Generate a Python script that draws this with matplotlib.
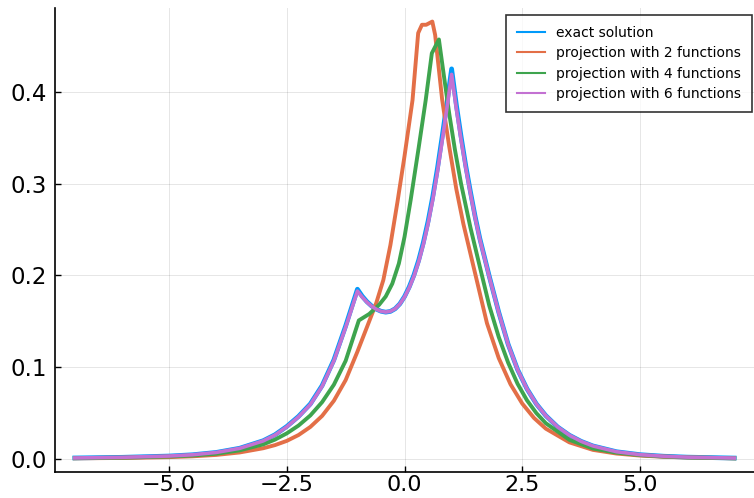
import matplotlib
matplotlib.use("Agg")
import matplotlib.pyplot as plt

# exact solution
x_exact = [-7.0, -6.0, -5.0, -4.5, -4.0, -3.5, -3.0, -2.75, -2.5, -2.25, -2.0, -1.75,
           -1.5, -1.25, -1.0, -0.9, -0.8, -0.7, -0.6, -0.5, -0.4, -0.3, -0.2, -0.1,
           0.0, 0.1, 0.2, 0.3, 0.4, 0.5, 0.6, 0.7, 0.8, 0.9, 1.0, 1.1, 1.2, 1.3, 1.4,
           1.5, 1.6, 1.8, 2.0, 2.2, 2.4, 2.6, 2.8, 3.0, 3.25, 3.5, 3.75, 4.0, 4.5,
           5.0, 5.5, 6.0, 7.0]
y_exact = [0.0012, 0.0019, 0.0033, 0.0047, 0.0072, 0.0118, 0.0200, 0.0265, 0.0355,
           0.0465, 0.0600, 0.0800, 0.1080, 0.1450, 0.1850, 0.1775, 0.1715, 0.1668,
           0.1633, 0.1610, 0.1600, 0.1608, 0.1637, 0.1690, 0.1770, 0.1875, 0.2005,
           0.2165, 0.2360, 0.2590, 0.2860, 0.3170, 0.3515, 0.3875, 0.4250, 0.3860,
           0.3515, 0.3195, 0.2910, 0.2640, 0.2400, 0.1990, 0.1600, 0.1250, 0.0975,
           0.0765, 0.0600, 0.0473, 0.0350, 0.0260, 0.0193, 0.0143, 0.0080, 0.0048,
           0.0031, 0.0021, 0.0011]

# projection with 2 functions
x_p2 = [-7.0, -6.0, -5.0, -4.5, -4.0, -3.5, -3.0, -2.75, -2.5, -2.25, -2.0, -1.75,
        -1.5, -1.25, -1.0, -0.75, -0.6, -0.45, -0.3, -0.15, 0.0, 0.17, 0.29, 0.37,
        0.46, 0.59, 0.65, 0.8, 0.95, 1.1, 1.25, 1.5, 1.75, 2.0, 2.25, 2.5, 2.75,
        3.0, 3.5, 4.0, 4.5, 5.0, 5.5, 6.0, 7.0]
y_p2 = [0.0008, 0.0012, 0.0021, 0.0030, 0.0045, 0.0072, 0.0118, 0.0152, 0.0198,
        0.0262, 0.0350, 0.0470, 0.0635, 0.0860, 0.1170, 0.1500, 0.1700, 0.1950,
        0.2330, 0.2800, 0.3300, 0.3910, 0.4640, 0.4730, 0.4730, 0.4765, 0.4620,
        0.3910, 0.3400, 0.2940, 0.2560, 0.2020, 0.1480, 0.1100, 0.0815, 0.0604,
        0.0447, 0.0331, 0.0182, 0.0100, 0.0060, 0.0038, 0.0025, 0.0017, 0.0008]

# projection with 4 functions
x_p4 = [-7.0, -6.0, -5.0, -4.5, -4.0, -3.5, -3.0, -2.75, -2.5, -2.25, -2.0, -1.75,
        -1.5, -1.25, -0.97, -0.75, -0.54, -0.4, -0.26, -0.12, 0.0, 0.13, 0.3, 0.45,
        0.58, 0.73, 0.84, 0.95, 1.07, 1.2, 1.4, 1.62, 1.8, 2.0, 2.2, 2.4, 2.6, 2.8,
        3.0, 3.5, 4.0, 4.5, 5.0, 5.5, 6.0, 7.0]
y_p4 = [0.0010, 0.0016, 0.0028, 0.0039, 0.0058, 0.0095, 0.0160, 0.0212, 0.0280,
        0.0365, 0.0475, 0.0620, 0.0810, 0.1070, 0.1510, 0.1580, 0.1680, 0.1770,
        0.1910, 0.2130, 0.2420, 0.2820, 0.3390, 0.3910, 0.4420, 0.4570, 0.4160,
        0.3760, 0.3370, 0.3000, 0.2520, 0.2050, 0.1670, 0.1330, 0.1050, 0.0820,
        0.0640, 0.0500, 0.0390, 0.0210, 0.0115, 0.0070, 0.0044, 0.0029, 0.0019,
        0.0009]

# projection with 6 functions
x_p6 = x_exact
y_p6 = [0.0012, 0.0019, 0.0033, 0.0047, 0.0072, 0.0117, 0.0198, 0.0262, 0.0351,
        0.0460, 0.0594, 0.0792, 0.1070, 0.1435, 0.1830, 0.1765, 0.1710, 0.1665,
        0.1632, 0.1610, 0.1601, 0.1609, 0.1637, 0.1688, 0.1765, 0.1866, 0.1992,
        0.2148, 0.2338, 0.2563, 0.2828, 0.3132, 0.3470, 0.3822, 0.4190, 0.3815,
        0.3480, 0.3170, 0.2890, 0.2625, 0.2390, 0.1983, 0.1596, 0.1248, 0.0973,
        0.0764, 0.0599, 0.0472, 0.0350, 0.0260, 0.0193, 0.0143, 0.0080, 0.0048,
        0.0031, 0.0021, 0.0011]

labels = ["exact solution", "projection with 2 functions",
          "projection with 4 functions", "projection with 6 functions"]
colors = ["#009AFA", "#E36F47", "#3EA44E", "#C371D2"]

fig = plt.figure(figsize=(7.54, 4.98), dpi=100)
ax = fig.add_axes([0.073, 0.052, 0.927, 0.932])

series = [(x_exact, y_exact, 3.4), (x_p2, y_p2, 2.8), (x_p4, y_p4, 2.8), (x_p6, y_p6, 2.6)]
for (xs, ys, lw), lab, c in zip(series, labels, colors):
    ax.plot(xs, ys, color=c, lw=lw, label=lab, solid_joinstyle="round")

ax.set_xlim(-7.42, 7.42)
ax.set_ylim(-0.0142, 0.4913)
ax.set_xticks([-5.0, -2.5, 0.0, 2.5, 5.0])
ax.set_xticklabels(["\u22125.0", "\u22122.5", "0.0", "2.5", "5.0"])
ax.set_yticks([0.0, 0.1, 0.2, 0.3, 0.4])
ax.set_yticklabels(["0.0", "0.1", "0.2", "0.3", "0.4"])
ax.tick_params(direction="in", length=4, width=1)
ax.tick_params(axis="y", pad=6, labelsize=16.5)
ax.tick_params(axis="x", pad=2, labelsize=16)
ax.grid(True, color="black", alpha=0.1, lw=0.7)

for s in ("top", "right"):
    ax.spines[s].set_visible(False)
for s in ("left", "bottom"):
    ax.spines[s].set_linewidth(1.2)

leg = ax.legend(loc="upper right", fontsize=10, frameon=True, fancybox=False,
                handlelength=2.0, handletextpad=0.8, borderpad=0.8,
                labelspacing=0.45, bbox_to_anchor=(0.9975, 0.985),
                borderaxespad=0.0)
leg.get_frame().set_edgecolor("black")
leg.get_frame().set_linewidth(1.2)
for h in leg.get_lines():
    h.set_linewidth(1.5)

fig.savefig("out.png", dpi=100)
